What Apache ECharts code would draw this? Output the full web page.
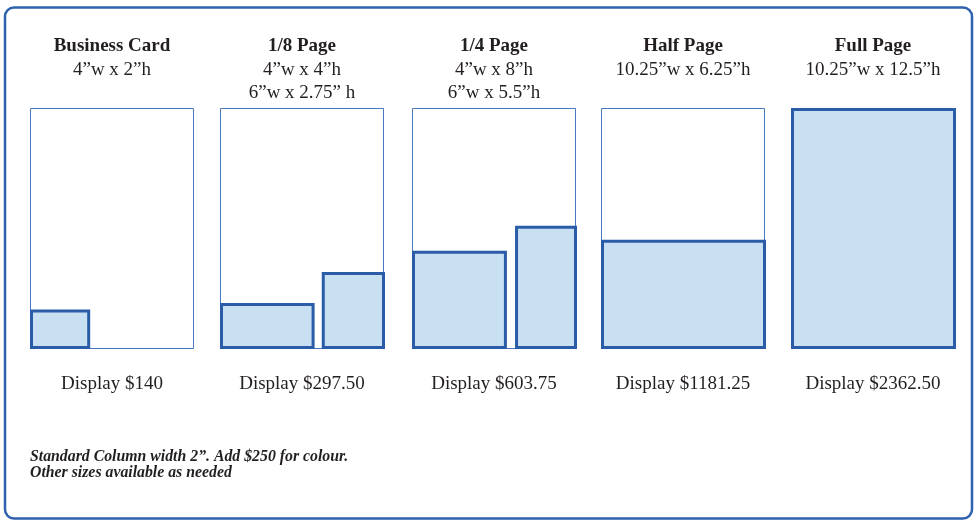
<!DOCTYPE html>
<html><head><meta charset="utf-8">
<script src="https://cdn.jsdelivr.net/npm/echarts@6/dist/echarts.min.js"></script>
<style>html,body{margin:0;padding:0;background:#fff}#c{width:977px;height:525px}</style>
</head><body><div id="c"></div>
<script>
// ---- data ----
const categories = ['Business Card', '1/8 Page', '1/4 Page', 'Half Page', 'Full Page'];
const sizeLabels = [
  ['4”w x 2”h'],
  ['4”w x 4”h', '6”w x 2.75” h'],
  ['4”w x 8”h', '6”w x 5.5”h'],
  ['10.25”w x 6.25”h'],
  ['10.25”w x 12.5”h']
];
const prices = ['Display $140', 'Display $297.50', 'Display $603.75', 'Display $1181.25', 'Display $2362.50'];
const pageWidth = 10.25;   // inches
const pageHeight = 12.5;   // inches
const showPageOutline = [true, true, true, true, false];
// ad boxes per category: [x offset, width, height] in inches (as drawn)
const adBoxes = [
  [[0, 3.7, 2.0]],
  [[0, 5.85, 2.35], [6.36, 3.89, 3.96]],
  [[0, 5.87, 5.07], [6.44, 3.81, 6.37]],
  [[0, 10.25, 5.64]],
  [[0, 10.25, 12.5]]
];
const footnotes = ['Standard Column width 2”. Add $250 for colour.', 'Other sizes available as needed'];

// ---- layout ----
const panelLeft = [30, 220, 412, 601, 791];
const panelW = 164, panelTop = 108, panelH = 240;
const textColor = '#231f20';
const serif = '"Liberation Serif", "DejaVu Serif", serif';

const grids = [], xAxes = [], yAxes = [], series = [], graphics = [];
categories.forEach((cat, i) => {
  grids.push({left: panelLeft[i], top: panelTop, width: panelW, height: panelH});
  xAxes.push({type: 'value', gridIndex: i, min: 0, max: pageWidth, show: false});
  yAxes.push({type: 'value', gridIndex: i, min: 0, max: pageHeight, show: false});
  if (showPageOutline[i]) {
    series.push({
      type: 'custom', xAxisIndex: i, yAxisIndex: i, silent: true, z: 1,
      data: [[0, 0, pageWidth, pageHeight]],
      renderItem: (params, api) => {
        const p0 = api.coord([api.value(0), api.value(3)]);
        const p1 = api.coord([api.value(2), api.value(1)]);
        return {type: 'rect', shape: {x: p0[0] + 0.5, y: p0[1] + 0.5, width: p1[0] - p0[0] - 1, height: p1[1] - p0[1]},
          style: {fill: '#fff', stroke: '#4a78c0', lineWidth: 1}};
      }
    });
  }
  series.push({
    type: 'custom', xAxisIndex: i, yAxisIndex: i, silent: true, z: 2,
    data: adBoxes[i].map(b => [b[0], 0, b[0] + b[1], b[2]]),
    renderItem: (params, api) => {
      const p0 = api.coord([api.value(0), api.value(3)]);
      const p1 = api.coord([api.value(2), api.value(1)]);
      return {type: 'rect', shape: {x: p0[0] + 1.5, y: p0[1] + 1.5, width: p1[0] - p0[0] - 2, height: p1[1] - p0[1] - 2},
        style: {fill: '#c9dff2', stroke: '#2b5ca8', lineWidth: 3}};
    }
  });
  const cx = panelLeft[i] + panelW / 2;
  graphics.push({type: 'text', style: {text: cat, x: cx, y: 46, align: 'center', verticalAlign: 'middle',
    font: 'bold 19px ' + serif, fill: textColor}});
  sizeLabels[i].forEach((s, k) => {
    graphics.push({type: 'text', style: {text: s, x: cx, y: 70 + 23 * k, align: 'center', verticalAlign: 'middle',
      font: '19px ' + serif, fill: textColor}});
  });
  graphics.push({type: 'text', style: {text: prices[i], x: cx, y: 384, align: 'center', verticalAlign: 'middle',
    font: '19px ' + serif, fill: textColor}});
});
footnotes.forEach((t, k) => {
  graphics.push({type: 'text', style: {text: t, x: 30, y: 457 + 16 * k, align: 'left', verticalAlign: 'middle',
    font: 'italic bold 15.8px ' + serif, fill: textColor}});
});
graphics.push({type: 'rect', z: -1, shape: {x: 5, y: 7.5, width: 967, height: 511, r: 9},
  style: {fill: 'none', stroke: '#2f62ae', lineWidth: 2.5}});

const chart = echarts.init(document.getElementById('c'), null, {renderer: 'canvas'});
chart.setOption({
  backgroundColor: '#fff',
  animation: false,
  grid: grids, xAxis: xAxes, yAxis: yAxes, series: series, graphic: graphics
});
</script></body></html>
